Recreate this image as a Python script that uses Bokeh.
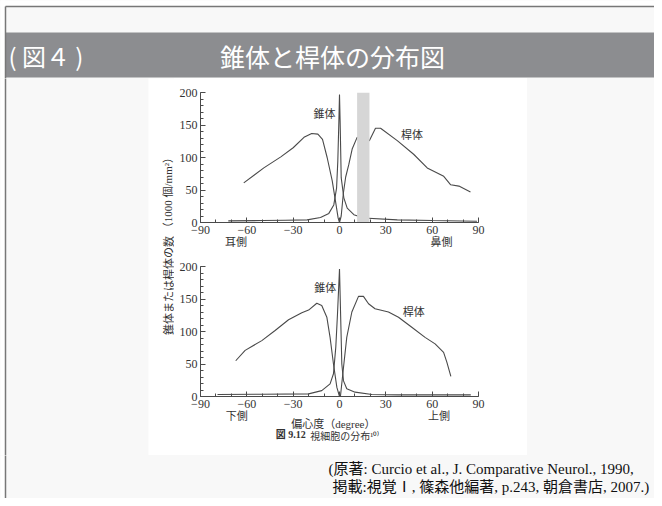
from bokeh.plotting import figure
from bokeh.models import Range1d, LinearAxis, FixedTicker, Label
from bokeh.layouts import column, row
from bokeh.embed import file_html
from bokeh.resources import INLINE

# ---------------- data ----------------
x_ticks = [-90, -60, -30, 0, 30, 60, 90]
x_tick_labels = ["\u221290", "\u221260", "\u221230", "0", "30", "60", "90"]
y_ticks = [0, 50, 100, 150, 200]

# upper panel (temporal / nasal)
top_rod_x = [-62, -49, -38, -30, -23, -18, -14, -11, -8, -4.7, -2.6, -0.9, 0,
             1.1, 2.5, 4, 6, 8.2, 11.4, 19.4, 23.3, 26.6, 37.4, 48, 56.8, 67.5, 72, 77.3, 84.8]
top_rod_y = [61, 84, 101, 115, 131, 137, 136, 128, 100, 64, 33, 7, 0,
             10, 45, 70, 89, 113, 131, 126, 145, 145, 126, 105, 84, 71, 58, 56, 47]
top_cone_x = [-72, -50, -35, -21, -12.3, -6.9, -3.7, -1.9, -1.1, -0.4, 0,
              0.4, 1.1, 2.8, 5, 9.3, 15.7, 37.4, 60, 89]
top_cone_y = [2.5, 3, 3.5, 4, 7.7, 14, 27, 53, 94, 156, 197,
              156, 69, 38, 22, 12, 7, 4, 3, 2]
blind_spot = [11.4, 19.4]
top_side_x = [-67, 66]
top_side_labels = ["耳側", "鼻側"]

# lower panel (inferior / superior)
bot_rod_x = [-67.2, -61.1, -50.3, -41.7, -33, -24.4, -20, -14.7, -11.5, -8.2, -6.1, -3.9, -1.7, 0,
             0.6, 2.6, 4.7, 8, 12.3, 15.5, 18.8, 23, 31.7, 38.2, 46.8, 55.4, 61.9, 67.4, 69.5, 72.1]
bot_rod_y = [55, 71, 86, 101.5, 118, 129, 133, 143.5, 140, 122, 91, 50, 14, 0,
             0, 45, 91, 130, 154, 154, 142.6, 135, 130, 122, 106.6, 91, 81, 68, 52.8, 31]
bot_cone_x = [-79, -50, -20, -11.5, -6.1, -3.9, -2.4, -1.3, 0,
              1.5, 2.6, 4.7, 10.1, 21, 38, 60, 85]
bot_cone_y = [3, 3.5, 4, 9, 19.5, 35, 76, 127, 196,
              50, 24, 12, 6.7, 3, 2.5, 2.5, 2.5]
bot_side_x = [-66.5, 64.5]
bot_side_labels = ["下側", "上側"]
x_title_pos = [-4]
x_title = ["偏心度（degree）"]
caption_num_pos = [-31.5]
caption_num = ["図 9.12"]
caption_text_pos = [3.4]
caption_text = ["視細胞の分布¹⁰⁾"]

# ---------------- style ----------------
BG = "#f8f8f8"
BAR = "#8c8d90"
EDGE = "#777777"
INK = "#4a4a4a"
SERIF = "'Liberation Serif', 'Noto Sans CJK JP'"
SANS = "'Noto Sans CJK JP'"
W, H = 654, 498


def deco(w, h, white_left=True):
    f = figure(width=w, height=h, x_range=Range1d(0, w), y_range=Range1d(h, 0),
               x_axis_type=None, y_axis_type=None, output_backend="svg",
               toolbar_location=None, min_border=0)
    f.background_fill_color = BG
    f.border_fill_color = BG
    f.outline_line_color = None
    f.grid.visible = False
    if white_left:
        f.quad(left=[-2], right=[5], top=[-2], bottom=[h + 2], fill_color="white", line_color=None)
        f.segment(x0=[5], y0=[-2], x1=[5], y1=[h + 2], line_color=EDGE, line_width=1.5)
    return f


def chart(top_b, bot_b):
    p = figure(frame_width=278, frame_height=130, x_range=Range1d(-90, 90),
               y_range=Range1d(0, 200), output_backend="svg", toolbar_location=None,
               min_border_left=26, min_border_right=49,
               min_border_top=top_b, min_border_bottom=bot_b)
    p.background_fill_color = "white"
    p.border_fill_color = "white"
    p.outline_line_color = None
    p.grid.visible = False
    p.xaxis.ticker = FixedTicker(ticks=x_ticks, minor_ticks=list(range(-90, 91, 10)))
    p.xaxis.major_label_overrides = dict(zip(x_ticks, x_tick_labels))
    p.yaxis.ticker = FixedTicker(ticks=y_ticks, minor_ticks=list(range(0, 201, 10)))
    for ax in (p.xaxis, p.yaxis):
        ax.axis_line_color = INK
        ax.major_tick_line_color = INK
        ax.minor_tick_line_color = INK
        ax.major_tick_in = 5
        ax.major_tick_out = 0
        ax.minor_tick_in = 3
        ax.minor_tick_out = 0
        ax.major_label_text_font = SERIF
        ax.major_label_text_font_size = "12px"
        ax.major_label_text_color = "#333333"
        ax.major_label_standoff = 3
    return p


def text_axis(p, xs, labels, standoff, size="11px", bold=False):
    ax = LinearAxis(ticker=FixedTicker(ticks=xs, minor_ticks=[]),
                    major_label_overrides=dict(zip(xs, labels)))
    ax.axis_line_color = None
    ax.major_tick_line_color = None
    ax.minor_tick_line_color = None
    ax.major_tick_in = 0
    ax.major_tick_out = 0
    ax.major_label_standoff = standoff
    ax.major_label_text_font = SERIF
    ax.major_label_text_font_size = size
    ax.major_label_text_font_style = "bold" if bold else "normal"
    ax.major_label_text_color = "#333333"
    p.add_layout(ax, "below")


def lab(p, x, y, text, size="11px", align="center", color="#333333", font=SERIF, angle=0):
    p.add_layout(Label(x=x, y=y, text=text, text_align=align, text_baseline="middle",
                       text_font=font, text_font_size=size, text_color=color, angle=angle))


# ---------------- upper chart ----------------
p1 = chart(14, 33)
p1.line(top_rod_x, top_rod_y, line_color=INK, line_width=1.1)
p1.line(top_cone_x, top_cone_y, line_color=INK, line_width=1.1)
p1.quad(left=[blind_spot[0]], right=[blind_spot[1]], bottom=[0], top=[200],
        fill_color="#d6d6d6", line_color=None)
text_axis(p1, top_side_x, top_side_labels, -1)
lab(p1, -9.7, 167, "錐体")
lab(p1, 47, 134, "桿体")

# ---------------- lower chart ----------------
p2 = chart(11, 59)
p2.line(bot_rod_x, bot_rod_y, line_color=INK, line_width=1.1)
p2.line(bot_cone_x, bot_cone_y, line_color=INK, line_width=1.1)
text_axis(p2, bot_side_x, bot_side_labels, -1)
text_axis(p2, x_title_pos, x_title, -7)
text_axis(p2, caption_num_pos, caption_num, -4, size="10px", bold=True)
text_axis(p2, caption_text_pos, caption_text, -12, size="10px")
lab(p2, -9.2, 167, "錐体")
lab(p2, 48, 130, "桿体")

# ---------------- decoration ----------------
header = deco(W, 78, white_left=False)
header.quad(left=[-2], right=[W + 2], top=[-2], bottom=[6], fill_color="white", line_color=None)
header.quad(left=[-2], right=[5], top=[-2], bottom=[80], fill_color="white", line_color=None)
header.quad(left=[5], right=[W + 2], top=[32], bottom=[77], fill_color=BAR, line_color=None)
header.segment(x0=[5, 5], y0=[6, 6], x1=[W + 2, 5], y1=[6, 80], line_color=EDGE, line_width=1.5)
lab(header, 8, 55, "( 図４ )", size="24px", align="left", color="white", font=SANS)
lab(header, 332, 55, "錐体と桿体の分布図", size="25px", color="white", font=SANS)

left = deco(174, 377)
left.quad(left=[148], right=[176], top=[-2], bottom=[379], fill_color="white", line_color=None)
lab(left, 168, 165, "錐体または桿体の数 （1000 個/mm²）", size="11px", angle=1.5708)

right = deco(W - 527, 377, white_left=False)

footer = deco(W, 43)
lab(footer, 328, 13, "(原著: Curcio et al., J. Comparative Neurol., 1990,", size="15px",
    align="left", color="#111111")
lab(footer, 332, 31, "掲載:視覚Ⅰ, 篠森他編著, p.243, 朝倉書店, 2007.)", size="15px",
    align="left", color="#111111")

charts = column(p1, p2, spacing=0, styles={"background-color": "white"})
body = row(left, charts, right, spacing=0, styles={"background-color": BG})
layout = column(header, body, footer, spacing=0, styles={"background-color": BG})

open("out.html", "w").write(file_html(layout, INLINE))
